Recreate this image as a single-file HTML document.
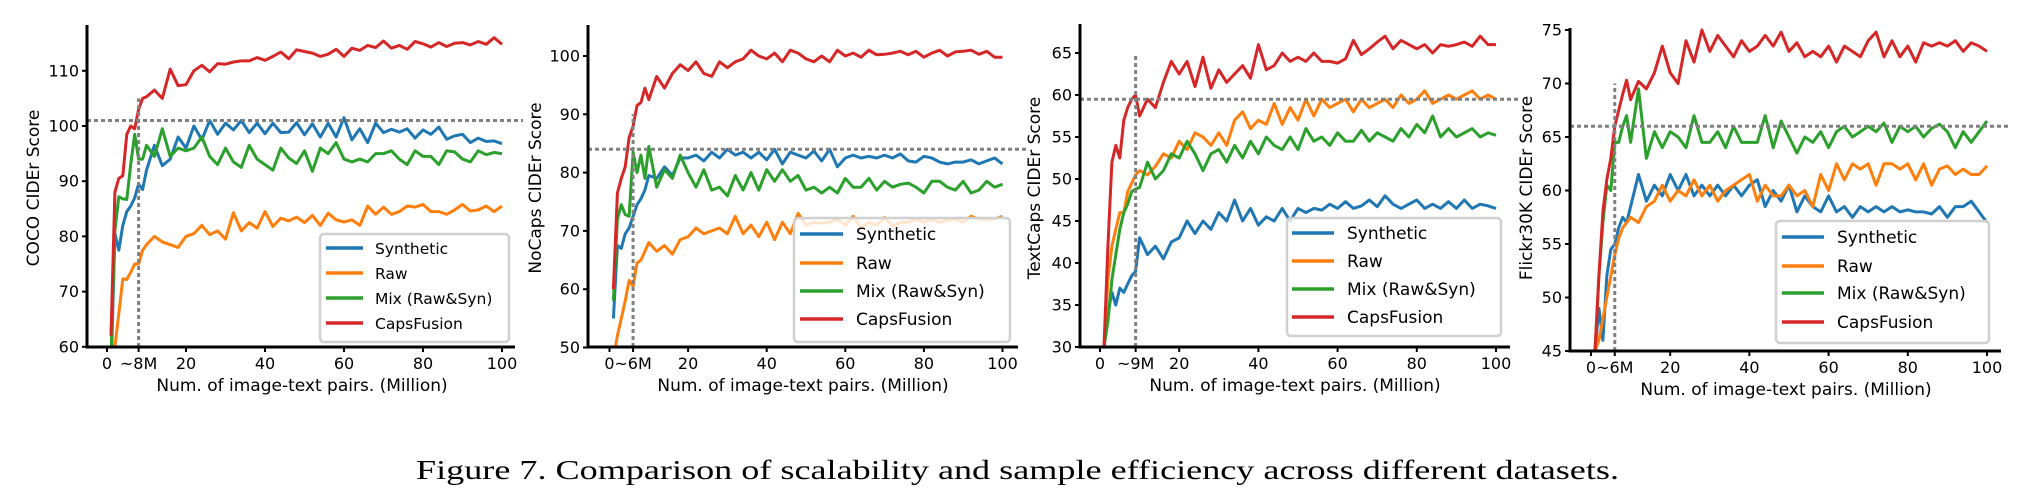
<!DOCTYPE html>
<html><head><meta charset="utf-8"><style>
html,body{margin:0;padding:0;background:#fff;}
svg{display:block;}
</style></head><body>
<svg id="fig" width="2021" height="490" viewBox="0 0 2021 490" xmlns="http://www.w3.org/2000/svg">
<text x="416" y="479" font-family="'Liberation Serif', serif" font-size="27" textLength="1203" lengthAdjust="spacingAndGlyphs" fill="#000">Figure 7. Comparison of scalability and sample efficiency across different datasets.</text>
</svg>
<script>
const xs = [1,2,3,4,5,6,7,8,9,10,12,14,16,18,20,22,24,26,28,30,32,34,36,38,40,42,44,46,48,50,52,54,56,58,60,62,64,66,68,70,72,74,76,78,80,82,84,86,88,90,92,94,96,98,100];
const seriesNames = ["Synthetic","Raw","Mix (Raw&Syn)","CapsFusion"];
const xTickVals = [0,20,40,60,80,100];

const cocoSyn = [55,80.5,77.5,82,84.5,85.5,87,89.5,88.5,92,96.5,92.8,94,98,96,100,97.5,101,98.5,100.5,99.3,101,98.8,100.5,98.6,100.5,98.8,98.9,100.6,98.4,100.4,98,100.5,98,101.5,97.5,99.5,97,100.5,98.8,99.4,98.9,99.5,97.8,99.3,98.5,99.8,97.6,98.2,98.5,97,97.8,97.2,97.3,96.8];
const cocoRaw = [55,60,66,72.3,72.2,73.5,75,75,77.5,78.5,80,79,78.5,78,80,80.5,82,80.3,81,79.5,84.3,81,82.5,81.5,84.5,81.8,83.3,82.8,83.5,82.5,83.8,82,84.2,83,82.6,83,82,85.5,84,85.3,84,84.5,85.5,85.3,85.8,84.5,84.5,84,84.8,85.8,84.6,84.8,85.5,84.5,85.5];
const cocoMix = [58,81,87.2,86.8,86.7,93,98.5,94,94,96.5,94.5,99.5,94.5,96,95.5,96,98,94.5,93,96,93.5,92.5,96.5,94,93,92,96,94.2,93.2,95.5,91.8,96,95,97,94,93.5,94,93.5,95,95,95.5,94,93,95.5,94.5,94.5,93,95.5,95.3,94,93.5,95.5,94.8,95.2,95];
const cocoCaps = [62,88,90.5,91,98.5,100,99.5,103,105,105.3,106.5,105,110.3,107.3,107.5,110,111,109.8,111.3,111.2,111.6,111.8,111.8,112.4,111.9,112.6,113.4,112.2,113.8,113.5,113.2,112.6,113,113.9,112.6,114.1,113.7,114.6,114.2,115.4,114.1,114.6,113.9,115.3,114.9,114.3,115.1,114.4,115,115.1,114.7,115.3,114.8,116,114.8];

const nocapsSyn = [55,67.5,67,69.5,70.5,72.5,74.5,75.5,77,79.5,79,81,79.5,82.5,82.5,83,82,83.5,82.5,84,83,83.5,82.5,83.5,82.2,84,81.5,83.5,83,82.5,83.7,82,84,81,82.5,83,82.5,82.8,82.5,83,82.5,83.2,82,81.8,82.8,82.5,81.8,81.5,81.8,81.8,82.2,81.5,82,82.5,81.5];
const nocapsRaw = [48,52,55,58,61.5,60.5,64.5,65,66.5,68,66.5,67.5,66,68.5,69,70.5,69.5,70,70.5,69.5,72.5,69.5,71,69,71.5,68.5,71.5,69.5,73,71,71.5,71.3,71.5,72,71,72.5,70.5,71.5,71,72.3,70.8,71.5,71.5,72,71.5,72,71.5,71.8,72,71.5,72.5,72,72,72,72.5];
const nocapsMix = [58,72,74.5,72.8,72.5,83.5,80,83,79,84.5,77.5,80.5,79,83,80,77.5,80.5,77,77.5,76,79.5,77,80,77,80.5,78.5,80.5,78.5,79.5,77,77.5,76.5,77.5,76.5,79,77.5,77.5,79,77,78.5,77.5,78,78.2,77.5,76.5,78.5,78.5,77.5,77,78.5,76.5,77,78.5,77.5,78];
const nocapsCaps = [60,76.5,79,81,86,88,91.5,92,94.5,92.5,96.5,94.5,97,98.5,97.5,99,97,96.5,99,98,99,99.5,101,100,99.5,100.5,99,101,100.5,99.5,99,100,99,101,100,100.5,99.8,101,100.2,100.3,100.5,100.8,100.2,100.8,99.8,100.5,101,100,100.7,100.8,101,100.3,100.8,99.8,99.8];

const textSyn = [30,34,36.5,35,37,36.5,37.5,38.5,39,43,41,42,40.5,42.5,43,45,43.5,45,44,46,45,47.5,45,46.5,44.5,45.5,45,46.5,45,46.5,46,46.5,46.3,47,46.5,47.3,46.5,46.8,47.5,46.7,48,47,46.5,47,47.5,46.5,47,46.5,47.3,46.5,47.5,46.5,47,46.8,46.5];
const textRaw = [30,38,42,44,46,46,48.5,49.5,50.5,51,50.5,51.5,53,52.5,54.5,53.5,55.5,55,54,55.5,54,57,58,56,57,56.5,59,56.5,58.5,57,59.5,57.5,59.5,58.5,59,59.5,58,59.5,58.5,59,59.5,58.5,60,59,59.5,60.5,59,59.5,60,59.5,60,60.5,59.5,60,59.5];
const textMix = [30,33,38,41,44,46,47,48.5,48.8,49,52,50,51,53,52.5,54.5,53,51,53,53.5,52,54,52.5,54.5,53,55,54,53.5,55,53.5,56,54.5,55,54,55.5,54.5,54.5,55.8,54.5,55.5,55,54.5,56,55,56.5,55.5,57.5,55,56,55,55.5,56,55,55.5,55.2];
const textCaps = [30,42,52,54,52.5,57,58.5,59.5,60,57.5,59.5,58.5,61.5,64,62.5,64,61,64.5,60.8,63,61.5,62.5,63.5,62,66,63,63.5,65,64,64.5,64,65,64,64,63.8,64.3,66.5,64.8,65.5,66.3,67,65.5,66.5,66,65.5,66,65,66,65.8,66,66.3,65.8,67,66,66];

const flickrSyn = [45,49,46,52,54.5,55,56.5,57.5,57,58.5,61.5,59,60.5,59.5,61.5,60,61.5,59.5,60.5,59.5,60.5,59.5,60.5,59.5,60.5,61,58.5,60,59,60.5,58,59.5,58.5,58,59.5,58,58.5,57.5,58.5,58,58.5,58,58.5,58,58.2,58,58,57.8,58.5,57.5,58.5,58.5,59,58,57];
const flickrRaw = [45,46,48,50,52,54,55.5,56.5,57,57.5,57,58.5,59,60.5,59,60,59.5,61,59.5,60.5,59,60,60.5,61,61.5,59,60.5,59.5,59.5,60.5,59.5,60,58.5,61.5,60,62.5,61,62.5,62,62.5,60.5,62.5,62.5,62,62.5,61,62.5,60.5,62,62.3,61.5,62,61.5,61.5,62.3];
const flickrMix = [45,52,57,60.5,60,64.5,64.5,66,67,64.5,69.5,63,65.5,64,65.5,65,64,67,64.5,64.5,65.5,64,66,64.5,64.5,64.5,67,64,66.5,65,63.5,65,64.5,65.5,64,65.5,66,65,65.5,66,65.5,66.3,64.5,66,65.5,66,65,65.8,66.2,65.5,64,65.5,64.5,65.5,66.5];
const flickrCaps = [45,52,58,61,63,66,67.5,69,70.3,68.5,70.2,69.5,71,73.5,71,70,74,72,75,73,74.5,73.5,72.5,74,73,73.5,74.5,73.5,74.8,73,73.8,72.5,73,72.5,73.5,72,73.5,73,72.5,74,74.8,72.5,74,72.5,73.5,72,73.8,73.5,73.8,73.5,74,73,73.8,73.5,73];

const colors = ["#1f77b4","#ff7f0e","#2ca02c","#d62728"];
const NS = "http://www.w3.org/2000/svg";
const fig = document.getElementById("fig");
function mk(tag, attrs, parent){const e=document.createElementNS(NS,tag);for(const k in attrs)e.setAttribute(k,attrs[k]);(parent||fig).appendChild(e);return e;}

const panels = [
 {id:"coco", ylabel:"COCO CIDEr Score", data:[cocoSyn,cocoRaw,cocoMix,cocoCaps], axisX:87, x0:107, kx:3.95, xEnd:515, yb:347, yTop:25, yRef:100, yRefPx:126, ky:5.52, yTicks:[60,70,80,90,100,110], yMin:60, hline:101, vline:8, vlineTop:105, vlabel:"~8M", xlabelX:302, ylabelX:33, fs:16,
  leg:{x1:320,y1:234,x2:509,y2:342,rows:[248,273,298,323],lx1:326,lx2:363,tx:375,fs:15.5}},
 {id:"nocaps", ylabel:"NoCaps CIDEr Score", data:[nocapsSyn,nocapsRaw,nocapsMix,nocapsCaps], axisX:588, x0:609.5, kx:3.93, xEnd:1018, yb:347, yTop:25, yRef:100, yRefPx:56, ky:5.83, yTicks:[50,60,70,80,90,100], yMin:50, hline:84, vline:6, vlineTop:90, vlabel:"~6M", xlabelX:803, ylabelX:535, fs:16,
  leg:{x1:794,y1:218,x2:1010,y2:342,rows:[234,263,291,319],lx1:800,lx2:843,tx:856,fs:17}},
 {id:"textcaps", ylabel:"TextCaps CIDEr Score", data:[textSyn,textRaw,textMix,textCaps], axisX:1080, x0:1100, kx:3.96, xEnd:1510, yb:347, yTop:24, yRef:30, yRefPx:347, ky:8.4, yTicks:[30,35,40,45,50,55,60,65], yMin:30, hline:59.5, vline:9, vlineTop:65, vlabel:"~9M", xlabelX:1295, ylabelX:1034, fs:16,
  leg:{x1:1287,y1:218,x2:1501,y2:336,rows:[233,261,289,317],lx1:1292,lx2:1334,tx:1347,fs:17}},
 {id:"flickr", ylabel:"Flickr30K CIDEr Score", data:[flickrSyn,flickrRaw,flickrMix,flickrCaps], axisX:1570, x0:1591, kx:3.96, xEnd:2001, yb:351, yTop:28, yRef:45, yRefPx:351, ky:10.7, yTicks:[45,50,55,60,65,70,75], yMin:45, hline:66, vline:6, vlineTop:70, vlabel:"~6M", xlabelX:1786, ylabelX:1526, fs:16,
  leg:{x1:1776,y1:221,x2:1989,y2:343,rows:[237,266,293,322],lx1:1782,lx2:1824,tx:1837,fs:17}}
];

const FONT = "'DejaVu Sans','Liberation Sans',sans-serif";
panels.forEach(p=>{
  const X = v => p.x0 + p.kx*v;
  const Y = v => p.yRefPx - (v - p.yRef)*p.ky;
  const g = mk("g",{});
  
  
  const cp = mk("clipPath",{id:"clip-"+p.id},g);
  mk("rect",{x:p.axisX,y:p.yTop,width:p.xEnd-p.axisX,height:p.yb-p.yTop},cp);
  // series
  p.data.forEach((arr,si)=>{
    const pts = arr.map((v,i)=>X(xs[i]).toFixed(1)+","+Y(v).toFixed(1)).join(" ");
    const pl = mk("polyline",{points:pts,fill:"none",stroke:colors[si],"stroke-width":3,"stroke-linejoin":"round","clip-path":"url(#clip-"+p.id+")"},g);
    
    
  });
  // dashed reference lines
  const hl = mk("line",{x1:p.axisX,x2:p.xEnd+8,y1:Y(p.hline),y2:Y(p.hline),stroke:"#808080","stroke-width":3,"stroke-dasharray":"4,3"},g);
  
  
  const vl = mk("line",{x1:X(p.vline),x2:X(p.vline),y1:p.yb,y2:Y(p.vlineTop),stroke:"#808080","stroke-width":3,"stroke-dasharray":"4,3"},g);
  
  
  // spines
  const ya = mk("line",{x1:p.axisX,x2:p.axisX,y1:p.yTop,y2:p.yb+1.5,stroke:"#000","stroke-width":3},g);
  
  
  const xa = mk("line",{x1:p.axisX-1.5,x2:p.xEnd,y1:p.yb,y2:p.yb,stroke:"#000","stroke-width":3},g);
  
  
  // y ticks
  p.yTicks.forEach(t=>{
    mk("line",{x1:p.axisX-5,x2:p.axisX,y1:Y(t),y2:Y(t),stroke:"#000","stroke-width":2},g);
    const tx = mk("text",{x:p.axisX-8,y:Y(t)+5.5,"text-anchor":"end","font-family":FONT,"font-size":p.fs,fill:"#000"},g);
    tx.textContent = t;
    
    
  });
  // x ticks
  const xt = [0,p.vline].concat(xTickVals.slice(1));
  const xl = ["0",p.vlabel].concat(xTickVals.slice(1).map(String));
  xt.forEach((t,i)=>{
    mk("line",{x1:X(t),x2:X(t),y1:p.yb,y2:p.yb+5,stroke:"#000","stroke-width":2},g);
    const tx = mk("text",{x:X(t),y:p.yb+22,"text-anchor":"middle","font-family":FONT,"font-size":p.fs,fill:"#000"},g);
    tx.textContent = xl[i];
    
    
  });
  // axis titles
  const xtl = mk("text",{x:p.xlabelX,y:p.yb+44,"text-anchor":"middle","font-family":FONT,"font-size":17,fill:"#000"},g);
  xtl.textContent = "Num. of image-text pairs. (Million)";
  
  
  const ytl = mk("text",{x:0,y:0,"text-anchor":"middle","font-family":FONT,"font-size":17,fill:"#000",transform:"translate("+(p.ylabelX+6)+","+188+") rotate(-90)"},g);
  ytl.textContent = p.ylabel;
  
  
  // legend
  const L = p.leg;
  const lg = mk("g",{},g);
  
  
  mk("rect",{x:L.x1,y:L.y1,width:L.x2-L.x1,height:L.y2-L.y1,rx:4,fill:"#fff","fill-opacity":0.8,stroke:"#d0d0d0","stroke-width":2.5},lg);
  seriesNames.forEach((n,si)=>{
    const e = mk("g",{},lg);
    
    
    mk("line",{x1:L.lx1,x2:L.lx2,y1:L.rows[si],y2:L.rows[si],stroke:colors[si],"stroke-width":3.5},e);
    const t = mk("text",{x:L.tx,y:L.rows[si]+6,"font-family":FONT,"font-size":L.fs,fill:"#000"},e);
    t.textContent = n;
  });
});
</script>
</body></html>
